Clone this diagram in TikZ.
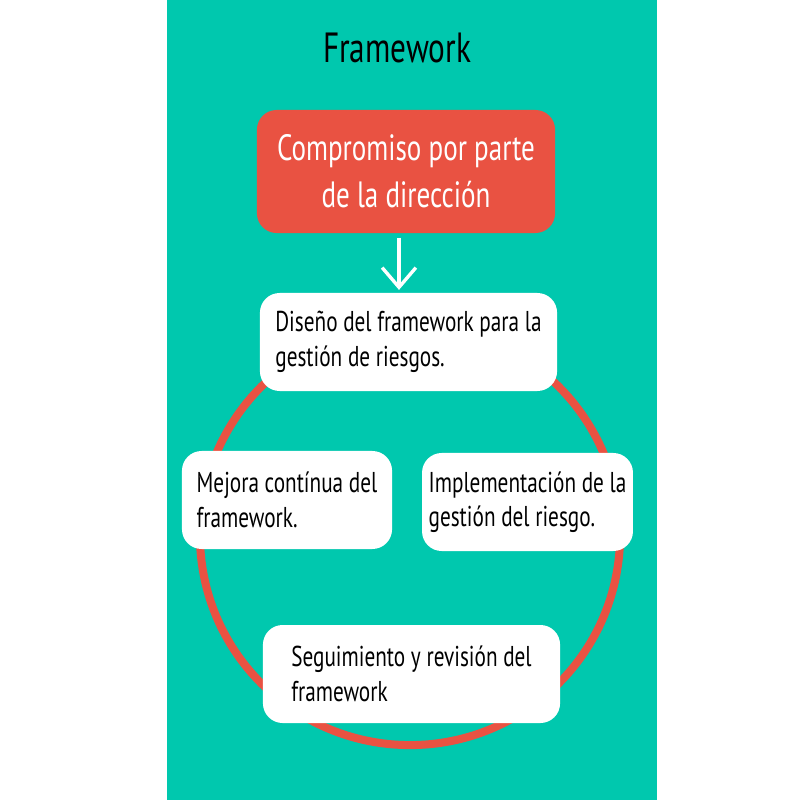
\documentclass[tikz,border=0pt]{standalone}
\usepackage{fontspec}
\setmainfont[FakeStretch=0.74]{PT Sans}
\usetikzlibrary{arrows.meta}

\definecolor{bgteal}{RGB}{0,200,174}
\definecolor{leadred}{RGB}{233,82,66}

\begin{document}
\begin{tikzpicture}[x=0.025cm, y=-0.025cm,
    stage/.style={fill=white, rounded corners=14pt, align=left, inner sep=0pt,
        minimum height=69.7pt, font=\fontsize{20.4}{24.5}\selectfont},
    lead/.style={fill=leadred, text=white, rounded corners=14pt, align=center, inner sep=0pt,
        minimum width=212pt, minimum height=87.5pt, font=\fontsize{26}{33.4}\selectfont}]
        \useasboundingbox (0,0) rectangle (800,800);
        \fill[bgteal] (167,0) rectangle (657,800);

        \node[anchor=base, font=\fontsize{30}{36}\selectfont] (title) at (397,63) {Framework};
        \node[style=lead] (commit) at (406,171.5) {Compromiso por parte\\de la dirección};

        % cycle
        \draw[leadred, line width=5.7pt] (410,535) circle[radius=149.4pt];

        \node[style=stage, minimum width=211.3pt] (design) at (408.5,342) {Diseño del framework para la\\gestión de riesgos.};
        \node[style=stage, minimum width=149.4pt] (improve) at (287,500) {Mejora contínua del\\framework.};
        \node[style=stage, minimum width=150pt] (implement) at (527.5,502) {Implementación de la\\gestión del riesgo.};
        \node[style=stage, minimum width=211.3pt] (review) at (411.5,674) {Seguimiento y revisión del\\framework};

        \draw[white, line width=2.4pt, -{Straight Barb[length=14pt, width=24pt]},
            shorten <=3pt, shorten >=2pt] (commit.south -| 399,0) -- (design.north -| 399,0);
    \end{tikzpicture}
\end{document}
